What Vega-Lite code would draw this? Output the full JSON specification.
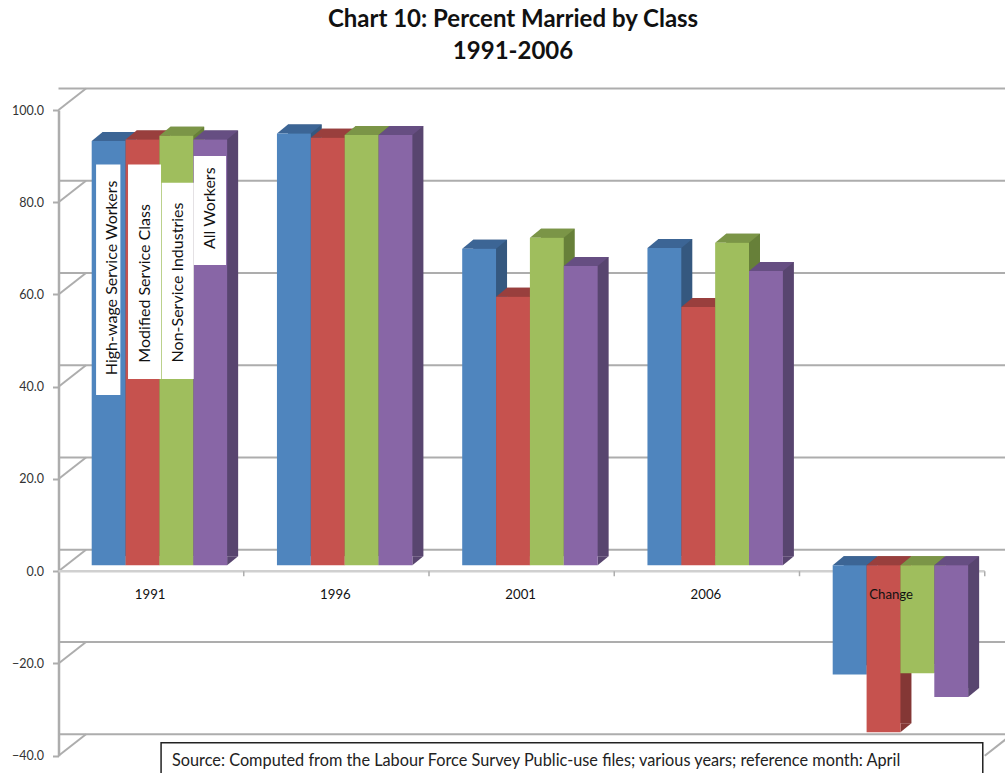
{"$schema":"https://vega.github.io/schema/vega-lite/v6.json","width":926.25,"height":645.7,"autosize":{"type":"none"},"padding":{"left":58.5,"top":110,"right":20.25,"bottom":17.3},"background":"white","config":{"view":{"stroke":null},"font":"Lato","axisY":{"grid":false,"labelFont":"Lato","labelFontSize":12.5,"labelColor":"#333333","labelPadding":9,"tickColor":"#ADADAD","tickSize":6,"tickWidth":2,"domainColor":"#ADADAD","domainWidth":2.5}},
"title":{"text":["Chart 10: Percent Married by Class","1991-2006"],"font":"Lato","fontSize":24,"fontWeight":"bold","color":"#111111","anchor":"middle","dx":-8.6,"offset":21,"lineHeight":32},
"datasets":{
"bars":[
{"year":"1991","series":"High-wage Service Workers","value":92.0,"top":92.0,"low":0},
{"year":"1991","series":"Modified Service Class","value":92.3,"top":92.3,"low":0},
{"year":"1991","series":"Non-Service Industries","value":93.1,"top":93.1,"low":0},
{"year":"1991","series":"All Workers","value":92.3,"top":92.3,"low":0},
{"year":"1996","series":"High-wage Service Workers","value":93.6,"top":93.6,"low":0},
{"year":"1996","series":"Modified Service Class","value":92.7,"top":92.7,"low":0},
{"year":"1996","series":"Non-Service Industries","value":93.3,"top":93.3,"low":0},
{"year":"1996","series":"All Workers","value":93.3,"top":93.3,"low":0},
{"year":"2001","series":"High-wage Service Workers","value":68.6,"top":68.6,"low":0},
{"year":"2001","series":"Modified Service Class","value":58.2,"top":58.2,"low":0},
{"year":"2001","series":"Non-Service Industries","value":71.0,"top":71.0,"low":0},
{"year":"2001","series":"All Workers","value":64.9,"top":64.9,"low":0},
{"year":"2006","series":"High-wage Service Workers","value":68.8,"top":68.8,"low":0},
{"year":"2006","series":"Modified Service Class","value":56.0,"top":56.0,"low":0},
{"year":"2006","series":"Non-Service Industries","value":69.9,"top":69.9,"low":0},
{"year":"2006","series":"All Workers","value":63.8,"top":63.8,"low":0},
{"year":"Change","series":"High-wage Service Workers","value":-23.7,"top":0,"low":-23.7},
{"year":"Change","series":"Modified Service Class","value":-36.2,"top":0,"low":-36.2},
{"year":"Change","series":"Non-Service Industries","value":-23.4,"top":0,"low":-23.4},
{"year":"Change","series":"All Workers","value":-28.6,"top":0,"low":-28.6}],
"grid":[{"level":-40},{"level":-20},{"level":0},{"level":20},{"level":40},{"level":60},{"level":80},{"level":100}],
"cats":[{"year":"1991"},{"year":"1996"},{"year":"2001"},{"year":"2006"},{"year":"Change"}],
"labels":[
{"year":"1991","series":"High-wage Service Workers","boxTop":88.2,"boxBottom":38.2,"labelY":63.6},
{"year":"1991","series":"Modified Service Class","boxTop":88.2,"boxBottom":41.7,"labelY":62.4},
{"year":"1991","series":"Non-Service Industries","boxTop":84.2,"boxBottom":41.7,"labelY":62.6},
{"year":"1991","series":"All Workers","boxTop":90,"boxBottom":66.4,"labelY":78.7}]
},
"encoding":{"x":{"field":"year","type":"nominal","sort":null,"scale":{"domain":["1991","1996","2001","2006","Change"],"paddingInner":0,"paddingOuter":0},"axis":null}},
"layer":[
{"data":{"name":"grid"},"mark":{"type":"rule","color":"#ADADAD","strokeWidth":2,"xOffset":27.5,"yOffset":-21.5},"encoding":{"x":null,"y":{"field":"level","type":"quantitative","title":null,"scale":{"domain":[-40,100],"nice":false,"zero":false},"axis":{"values":[-40,-20,0,20,40,60,80,100],"format":".1f"}}}},
{"data":{"name":"grid"},"mark":{"type":"point","shape":"M0,0L27.5,-21.5","size":4,"filled":false,"stroke":"#ADADAD","strokeWidth":2,"opacity":1},"encoding":{"x":{"datum":"1991","type":"nominal","bandPosition":0},"y":{"field":"level","type":"quantitative","title":null}}},
{"data":{"values":[{"level":0}]},"mark":{"type":"rule","color":"#D0D0D0","strokeWidth":2.5},"encoding":{"x":null,"y":{"field":"level","type":"quantitative","title":null}}},
{"data":{"values":[{"level":-40}]},"mark":{"type":"point","shape":"M0,0L27.5,-21.5","size":4,"filled":false,"stroke":"#ADADAD","strokeWidth":2,"opacity":1},"encoding":{"x":{"datum":"Change","type":"nominal","bandPosition":1},"y":{"field":"level","type":"quantitative","title":null}}},
{"data":{"name":"cats"},"mark":{"type":"point","shape":"M0,0L0,5","size":4,"filled":false,"stroke":"#ADADAD","strokeWidth":1.5,"opacity":1},"encoding":{"x":{"field":"year","type":"nominal","bandPosition":1},"y":{"datum":0,"type":"quantitative","title":null}}},
{"data":{"name":"bars"},"transform":[{"filter":"datum.series==='High-wage Service Workers'"}],"layer":[
{"mark":{"type":"bar","color":"#35587F","width":33.85,"xOffset":-31.5,"yOffset":-15,"y2Offset":-15},"encoding":{"y":{"field":"top","type":"quantitative","title":null},"y2":{"field":"low"}}},
{"mark":{"type":"point","shape":"M16.9,-6L27.9,-15L16.9,-15Z","size":4,"filled":true,"color":"#35587F","opacity":1,"strokeWidth":0,"xOffset":-42.5},"encoding":{"y":{"field":"low","type":"quantitative","title":null}}},
{"mark":{"type":"point","shape":"M-16.9,-6L-6,-15L27.9,-15L16.9,-6Z","size":4,"filled":true,"color":"#3C6595","opacity":1,"strokeWidth":0,"xOffset":-42.5},"encoding":{"y":{"field":"top","type":"quantitative","title":null}}},
{"mark":{"type":"bar","color":"#4F85BE","width":33.85,"xOffset":-42.5,"yOffset":-6,"y2Offset":-6},"encoding":{"y":{"field":"value","type":"quantitative","title":null},"y2":{"datum":0}}}]},
{"data":{"name":"bars"},"transform":[{"filter":"datum.series==='Modified Service Class'"}],"layer":[
{"mark":{"type":"bar","color":"#843735","width":33.85,"xOffset":2.4,"yOffset":-15,"y2Offset":-15},"encoding":{"y":{"field":"top","type":"quantitative","title":null},"y2":{"field":"low"}}},
{"mark":{"type":"point","shape":"M16.9,-6L27.9,-15L16.9,-15Z","size":4,"filled":true,"color":"#843735","opacity":1,"strokeWidth":0,"xOffset":-8.6},"encoding":{"y":{"field":"low","type":"quantitative","title":null}}},
{"mark":{"type":"point","shape":"M-16.9,-6L-6,-15L27.9,-15L16.9,-6Z","size":4,"filled":true,"color":"#993F3D","opacity":1,"strokeWidth":0,"xOffset":-8.6},"encoding":{"y":{"field":"top","type":"quantitative","title":null}}},
{"mark":{"type":"bar","color":"#C6524E","width":33.85,"xOffset":-8.6,"yOffset":-6,"y2Offset":-6},"encoding":{"y":{"field":"value","type":"quantitative","title":null},"y2":{"datum":0}}}]},
{"data":{"name":"bars"},"transform":[{"filter":"datum.series==='Non-Service Industries'"}],"layer":[
{"mark":{"type":"bar","color":"#678039","width":33.85,"xOffset":36.2,"yOffset":-15,"y2Offset":-15},"encoding":{"y":{"field":"top","type":"quantitative","title":null},"y2":{"field":"low"}}},
{"mark":{"type":"point","shape":"M16.9,-6L27.9,-15L16.9,-15Z","size":4,"filled":true,"color":"#678039","opacity":1,"strokeWidth":0,"xOffset":25.2},"encoding":{"y":{"field":"low","type":"quantitative","title":null}}},
{"mark":{"type":"point","shape":"M-16.9,-6L-6,-15L27.9,-15L16.9,-6Z","size":4,"filled":true,"color":"#7B9547","opacity":1,"strokeWidth":0,"xOffset":25.2},"encoding":{"y":{"field":"top","type":"quantitative","title":null}}},
{"mark":{"type":"bar","color":"#9FBE5D","width":33.85,"xOffset":25.2,"yOffset":-6,"y2Offset":-6},"encoding":{"y":{"field":"value","type":"quantitative","title":null},"y2":{"datum":0}}}]},
{"data":{"name":"bars"},"transform":[{"filter":"datum.series==='All Workers'"}],"layer":[
{"mark":{"type":"bar","color":"#58456F","width":33.85,"xOffset":70.1,"yOffset":-15,"y2Offset":-15},"encoding":{"y":{"field":"top","type":"quantitative","title":null},"y2":{"field":"low"}}},
{"mark":{"type":"point","shape":"M16.9,-6L27.9,-15L16.9,-15Z","size":4,"filled":true,"color":"#58456F","opacity":1,"strokeWidth":0,"xOffset":59.1},"encoding":{"y":{"field":"low","type":"quantitative","title":null}}},
{"mark":{"type":"point","shape":"M-16.9,-6L-6,-15L27.9,-15L16.9,-6Z","size":4,"filled":true,"color":"#664E82","opacity":1,"strokeWidth":0,"xOffset":59.1},"encoding":{"y":{"field":"top","type":"quantitative","title":null}}},
{"mark":{"type":"bar","color":"#8866A6","width":33.85,"xOffset":59.1,"yOffset":-6,"y2Offset":-6},"encoding":{"y":{"field":"value","type":"quantitative","title":null},"y2":{"datum":0}}}]},
{"data":{"name":"labels"},"transform":[{"filter":"datum.series==='High-wage Service Workers'"}],"layer":[
{"mark":{"type":"bar","color":"white","width":24.3,"xOffset":-42.9},"encoding":{"y":{"field":"boxTop","type":"quantitative","title":null},"y2":{"field":"boxBottom"}}},
{"mark":{"type":"text","angle":270,"font":"Lato","fontSize":16,"color":"#111111","align":"center","baseline":"middle","xOffset":-39.1},"encoding":{"y":{"field":"labelY","type":"quantitative","title":null},"text":{"field":"series"}}}]},
{"data":{"name":"labels"},"transform":[{"filter":"datum.series==='Modified Service Class'"}],"layer":[
{"mark":{"type":"bar","color":"white","width":33,"xOffset":-6.6},"encoding":{"y":{"field":"boxTop","type":"quantitative","title":null},"y2":{"field":"boxBottom"}}},
{"mark":{"type":"text","angle":270,"font":"Lato","fontSize":16,"color":"#111111","align":"center","baseline":"middle","xOffset":-6.1},"encoding":{"y":{"field":"labelY","type":"quantitative","title":null},"text":{"field":"series"}}}]},
{"data":{"name":"labels"},"transform":[{"filter":"datum.series==='Non-Service Industries'"}],"layer":[
{"mark":{"type":"bar","color":"white","width":32,"xOffset":26.6},"encoding":{"y":{"field":"boxTop","type":"quantitative","title":null},"y2":{"field":"boxBottom"}}},
{"mark":{"type":"text","angle":270,"font":"Lato","fontSize":16,"color":"#111111","align":"center","baseline":"middle","xOffset":26.9},"encoding":{"y":{"field":"labelY","type":"quantitative","title":null},"text":{"field":"series"}}}]},
{"data":{"name":"labels"},"transform":[{"filter":"datum.series==='All Workers'"}],"layer":[
{"mark":{"type":"bar","color":"white","width":32.3,"xOffset":58.8},"encoding":{"y":{"field":"boxTop","type":"quantitative","title":null},"y2":{"field":"boxBottom"}}},
{"mark":{"type":"text","angle":270,"font":"Lato","fontSize":16,"color":"#111111","align":"center","baseline":"middle","xOffset":58.9},"encoding":{"y":{"field":"labelY","type":"quantitative","title":null},"text":{"field":"series"}}}]},
{"data":{"name":"cats"},"mark":{"type":"text","font":"Lato","fontSize":13.2,"color":"#111111","dx":-1,"baseline":"middle"},"encoding":{"y":{"datum":-5.2,"type":"quantitative","title":null},"text":{"field":"year"}}},
{"data":{"values":[{"note":"Source: Computed from the Labour Force Survey Public-use files; various years; reference month: April","anchor":"2001","boxTop":-37.2,"boxBottom":-48,"textY":-41.2}]},"layer":[
{"mark":{"type":"bar","fill":"white","stroke":"#222222","strokeWidth":1.5,"width":821.7,"xOffset":50.3},"encoding":{"x":{"field":"anchor","type":"nominal"},"y":{"field":"boxTop","type":"quantitative","title":null},"y2":{"field":"boxBottom"}}},
{"mark":{"type":"text","font":"Lato","fontSize":16.3,"color":"#222222","align":"left","baseline":"middle","dx":-349.6},"encoding":{"x":{"field":"anchor","type":"nominal"},"y":{"field":"textY","type":"quantitative","title":null},"text":{"field":"note"}}}]}
]}
